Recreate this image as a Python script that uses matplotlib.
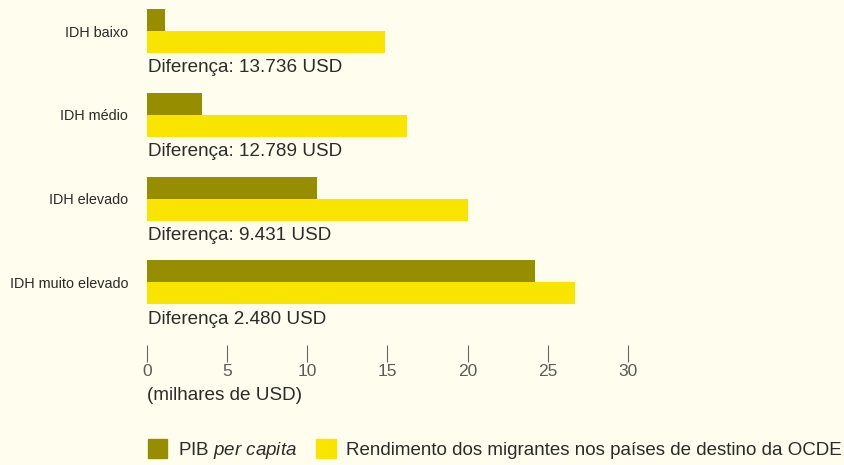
import matplotlib
matplotlib.use("Agg")
import matplotlib.pyplot as plt
from matplotlib.patches import Patch
import numpy as np

# valores em milhares de USD
categorias = ["IDH baixo", "IDH médio", "IDH elevado", "IDH muito elevado"]
pib_per_capita = [1.12, 3.43, 10.6, 24.2]
rendimento_migrantes = [14.85, 16.22, 20.03, 26.68]
diferencas = ["Diferença: 13.736 USD", "Diferença: 12.789 USD",
              "Diferença: 9.431 USD", "Diferença 2.480 USD"]
ticks = [0, 5, 10, 15, 20, 25, 30]

bg = "#FFFDEE"
olive = "#978D00"
yellow = "#F9E400"
txt = "#2b2b2b"

plt.rcParams["font.family"] = ["Liberation Sans", "DejaVu Sans"]
plt.rcParams["mathtext.fontset"] = "custom"
plt.rcParams["mathtext.it"] = "Liberation Sans:italic"
plt.rcParams["mathtext.rm"] = "Liberation Sans"

W, H = 845, 465
fig = plt.figure(figsize=(W / 100, H / 100), dpi=100, facecolor=bg)
# eixo: x de 147 a 628 px, y de 0 a 345 px
ax = fig.add_axes([147 / W, 1 - 345 / H, (628 - 147) / W, 345 / H])
ax.set_facecolor(bg)

y = np.arange(len(categorias))
h = 0.262
ax.barh(y - h / 2, pib_per_capita, height=h, color=olive)
ax.barh(y + h / 2, rendimento_migrantes, height=h, color=yellow)

for i, d in enumerate(diferencas):
    ax.text(0.05, y[i] + 0.44, d, fontsize=13.6, color=txt, va="center", ha="left")
    ax.text(-1.18, y[i] + 0.02, categorias[i], fontsize=10.4, color=txt, va="center", ha="right")

ax.set_xlim(0, 30)
ax.set_ylim(3.747, -0.37)
for s in ax.spines.values():
    s.set_visible(False)
ax.set_yticks([])
ax.set_xticks(ticks)
ax.set_xticklabels([str(t) for t in ticks])
ax.tick_params(axis="x", length=12, width=0.8, color="#666666", pad=2,
               labelsize=12.5, labelcolor="#5a5a5a")

fig.text(147 / W, 1 - 395 / H, "(milhares de USD)", fontsize=13.6, color=txt,
         ha="left", va="center")

handles = [Patch(color=olive), Patch(color=yellow)]
labels = ["PIB $\\it{per\\ capita}$",
          "Rendimento dos migrantes nos países de destino da OCDE"]
fig.legend(handles, labels, loc="center left", bbox_to_anchor=(140 / W, 1 - 450 / H),
           ncol=2, frameon=False, fontsize=13.5, handlelength=1.06, handleheight=1.16,
           handletextpad=0.54, columnspacing=1.05, labelcolor=txt, borderaxespad=0)

fig.savefig("out.png", dpi=100, facecolor=bg)
